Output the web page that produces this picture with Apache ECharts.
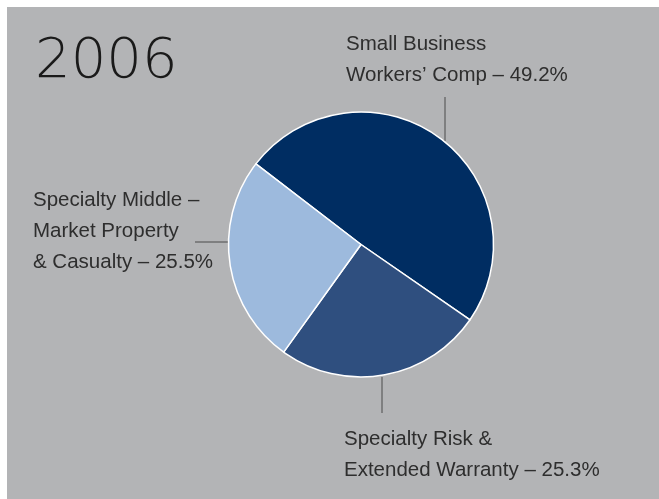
<!DOCTYPE html>
<html>
<head>
<meta charset="utf-8">
<script src="https://cdn.jsdelivr.net/npm/echarts@6/dist/echarts.min.js"></script>
<style>
  html, body { margin: 0; padding: 0; background: #ffffff; }
  #chart { position: absolute; left: 7px; top: 7px; width: 652px; height: 492px; }
</style>
</head>
<body>
<div id="chart"></div>
<script>
// Business mix, share of total (%)
const yearLabel = '2006';
const segments = [
  'Small Business\nWorkers\u2019 Comp',
  'Specialty Risk &\nExtended Warranty',
  'Specialty Middle \u2013\nMarket Property\n& Casualty'
];
const shares = [49.2, 25.3, 25.5];
const colors = ['#002d62', '#2f4f7f', '#9dbadd'];

// Where each callout sits (text box top-left, then leader line points)
const callouts = [
  { x: 339, y: 22, line: [[438, 90], [438, 112], [438, 134]] },
  { x: 337, y: 417, line: [[375, 370], [375, 388], [375, 406]] },
  { x: 26, y: 178, line: [[188, 235], [205, 235], [222, 235]] }
];

const font = "'Liberation Sans', Arial, Helvetica, sans-serif";
const chart = echarts.init(document.getElementById('chart'));

chart.setOption({
  backgroundColor: '#b3b4b6',
  animation: false,
  title: {
    text: yearLabel,
    left: 23,
    top: 22,
    textStyle: { fontFamily: "'DejaVu Sans', sans-serif", fontSize: 56, fontWeight: 200, color: '#1a1a1a' }
  },
  series: [{
    type: 'pie',
    center: [354, 237.5],
    radius: 132.5,
    startAngle: 142.5,
    clockwise: true,
    data: segments.map((name, i) => ({
      name,
      value: shares[i],
      itemStyle: { color: colors[i] }
    })),
    itemStyle: { borderColor: '#ffffff', borderWidth: 1.5 },
    emphasis: { disabled: true },
    label: {
      show: true,
      position: 'outside',
      alignTo: 'none',
      overflow: 'none',
      formatter: p => p.name + ' \u2013 ' + p.value + '%',
      fontFamily: font,
      fontSize: 20.5,
      lineHeight: 31,
      color: '#2e2e2e'
    },
    labelLine: {
      show: true,
      lineStyle: { color: '#4a4a4a', width: 1 }
    },
    labelLayout: params => {
      const c = callouts[params.dataIndex];
      return {
        x: c.x,
        y: c.y,
        align: 'left',
        verticalAlign: 'top',
        labelLinePoints: c.line
      };
    }
  }]
});
</script>
</body>
</html>
